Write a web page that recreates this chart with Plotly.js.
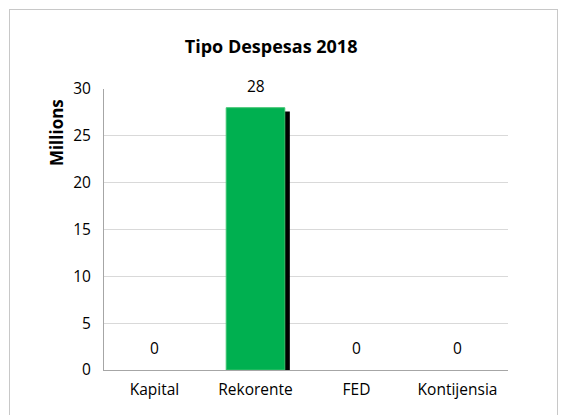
<!DOCTYPE html>
<html><head><meta charset="utf-8">
<script src="https://cdn.plot.ly/plotly-3.0.1.min.js"></script>
<style>
html,body{margin:0;padding:0;overflow:hidden;background:#fff;}
#chart{position:absolute;left:0;top:0;width:566px;height:415px;}
#frame{position:absolute;left:9px;top:9px;width:547px;height:420px;border:1px solid #c8c8c8;pointer-events:none;}
</style></head>
<body>
<div id="chart"></div><div id="frame"></div>
<script>
const categories = ["Kapital", "Rekorente", "FED", "Kontijensia"];
const values = [0, 28, 0, 0];
const labels = ["0", "28", "0", "0"];
const chartTitle = "Tipo Despesas 2018";
const yTitle = "Millions";

const barWidth = 0.58;
const font = {family: "Open Sans, Noto Sans, sans-serif", color: "#000", size: 15.5};

const shadow = {
  type: "bar", x: categories, y: values.map(v => v > 0 ? v - 0.2 : 0), base: -0.2,
  width: barWidth, offset: -barWidth/2 + 0.05,
  marker: {color: values.map(v => v > 0 ? "#000" : "rgba(0,0,0,0)"), line: {width: 0}},
  hoverinfo: "skip", showlegend: false
};
const main = {
  type: "bar", x: categories, y: values, width: barWidth,
  marker: {color: "#00b050", line: {color: values.map(v => v > 0 ? "#3cc46f" : "rgba(0,0,0,0)"), width: 1}},
  showlegend: false
};

const annotations = categories.map((c, i) => ({
  x: c, y: values[i], xref: "x", yref: "y", text: labels[i], showarrow: false,
  yshift: 22, font: font
}));
annotations.push({
  xref: "paper", yref: "paper", x: 0, y: 0.843, xshift: -48, textangle: -90,
  xanchor: "center", yanchor: "middle",
  text: "<b>" + yTitle + "</b>", showarrow: false,
  font: {family: "Open Sans, sans-serif", size: 17, color: "#000"}
});

const layout = {
  width: 566, height: 415,
  margin: {l: 104, r: 58, t: 89, b: 45},
  paper_bgcolor: "#fff", plot_bgcolor: "#fff",
  barmode: "overlay",
  font: font,
  title: {text: "<b>" + chartTitle + "</b>", font: {family: "Open Sans, sans-serif", size: 18, color: "#000"},
          xref: "container", yref: "container", x: 0.479, xanchor: "center", y: 0.887, yanchor: "middle"},
  xaxis: {type: "category", showline: true, linecolor: "#a6a6a6", linewidth: 1, ticks: "", showgrid: false,
          tickfont: font, ticklabelstandoff: 5},
  yaxis: {range: [0, 30], dtick: 5, showgrid: true, gridcolor: "#d9d9d9", gridwidth: 1,
          showline: true, linecolor: "#a6a6a6", linewidth: 1, zeroline: false, ticks: "",
          tickfont: font, ticklabelstandoff: 9},
  annotations: annotations
};

Plotly.newPlot("chart", [shadow, main], layout, {displayModeBar: false, staticPlot: true});
</script>
</body></html>
